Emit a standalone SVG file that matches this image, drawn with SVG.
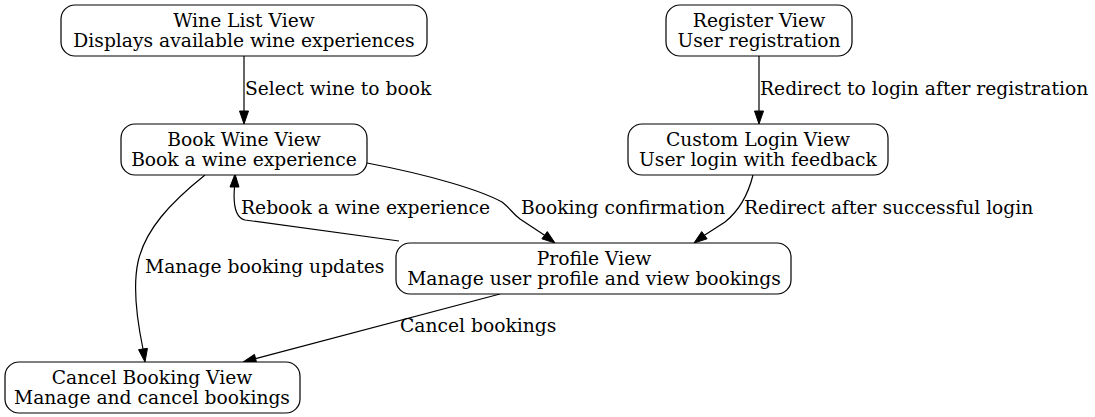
<svg xmlns="http://www.w3.org/2000/svg" width="1095" height="417" viewBox="0 0 1095 417">
<style>
.n rect{fill:#fff;stroke:#000;stroke-width:1.2}
text{font-family:"DejaVu Serif","Liberation Serif",serif;font-size:18.7px;fill:#000}
.c{text-anchor:middle}
.e path{fill:none;stroke:#000;stroke-width:1.2}
.e polygon{fill:#000;stroke:#000;stroke-width:1}
</style>
<rect width="1095" height="417" fill="#fff"/>
<g id="connectors" class="e">
<path d="M244,56 L244,111"/><polygon points="239.5,111 244,124 248.5,111"/>
<path d="M759,56 L759,111"/><polygon points="754.5,111 759,124 763.5,111"/>
<path d="M367,163 C430,175 480,190 502,202 C510,208 512,213 520,219 L544.6,235.2"/><polygon points="541.9,238.8 555,243 547.3,231.6"/>
<path d="M753,175 C748,195 740,210 725,222 L704.4,235.2"/><polygon points="707.1,238.8 694,243 701.7,231.6"/>
<path d="M399,241 L245,220 C236,218 233,205 234.5,187"/><polygon points="230,187 235,174 239,187"/>
<path d="M205,175 C170,203 145,230 138,262 C132,290 138,325 143,349"/><polygon points="138.55,349.68 145,362 147.45,348.32"/>
<path d="M500,294 L255.6,358.7"/><polygon points="256.7,363.05 243,362 254.5,354.35"/>
<text x="245" y="95">Select wine to book</text>
<text x="760" y="95">Redirect to login after registration</text>
<text x="521" y="214">Booking confirmation</text>
<text x="744" y="214">Redirect after successful login</text>
<text x="241" y="214">Rebook a wine experience</text>
<text x="145" y="273">Manage booking updates</text>
<text x="400" y="332">Cancel bookings</text>
</g>
<g id="wine_list" class="n"><rect x="61" y="5" width="366" height="51" rx="14"/><text class="c" x="244" y="26.5">Wine List View</text><text class="c" x="244" y="46.5">Displays available wine experiences</text></g>
<g id="register" class="n"><rect x="666" y="5" width="186" height="51" rx="14"/><text class="c" x="759" y="26.5">Register View</text><text class="c" x="759" y="46.5">User registration</text></g>
<g id="book_wine" class="n"><rect x="121" y="124" width="246" height="51" rx="14"/><text class="c" x="244" y="145.5">Book Wine View</text><text class="c" x="244" y="165.5">Book a wine experience</text></g>
<g id="custom_login" class="n"><rect x="628" y="124" width="260" height="51" rx="14"/><text class="c" x="758" y="145.5">Custom Login View</text><text class="c" x="758" y="165.5">User login with feedback</text></g>
<g id="profile" class="n"><rect x="396" y="243" width="395" height="51" rx="14"/><text class="c" x="594" y="264.5">Profile View</text><text class="c" x="594" y="284.5">Manage user profile and view bookings</text></g>
<g id="cancel_booking" class="n"><rect x="5" y="362" width="295" height="51" rx="14"/><text class="c" x="152" y="383.5">Cancel Booking View</text><text class="c" x="152" y="403.5">Manage and cancel bookings</text></g>
</svg>
